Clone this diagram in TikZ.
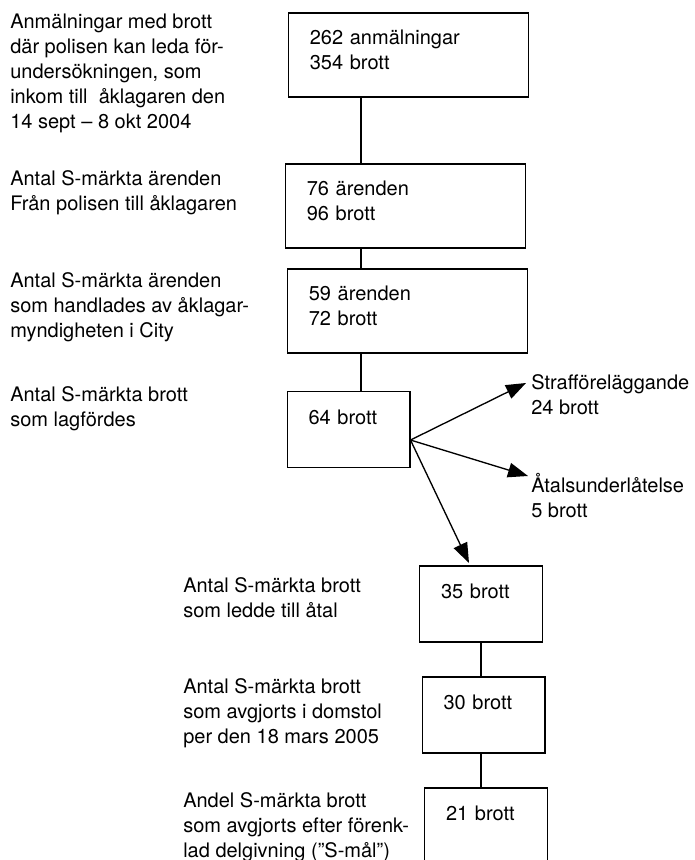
\documentclass[tikz,border=0pt]{standalone}
\usepackage{fontspec}
\setmainfont{TeX Gyre Heros}
\usetikzlibrary{arrows.meta}

\begin{document}
\begin{tikzpicture}[
		x=0.75pt, y=-0.75pt,
		every node/.style={font=\fontsize{15pt}{18.75pt}\selectfont},
		box/.style={draw, line width=1pt, align=left, inner xsep=16pt, inner ysep=0pt},
		wide/.style={box, text width=148pt, minimum height=63pt, text depth=26pt},
		narrow/.style={box, text width=60pt, minimum height=57pt},
		note/.style={align=left, anchor=base west, inner sep=0pt},
		link/.style={line width=1pt},
		arrow/.style={line width=1pt, -{Triangle[length=15pt,width=11pt]}}
	]
	\useasboundingbox (0,0) rectangle (695,860);
	\clip (0,0) rectangle (695,860);

	\node[wide] (b1) at (408.5,55) {262 anmälningar\\354 brott};
	\node[wide] (b2) at (405.5,206) {76 ärenden\\96 brott};
	\node[wide] (b3) at (407.5,311) {59 ärenden\\72 brott};
	\node[narrow] (b4) at (348.5,429.5) {64 brott\\\mbox{}};
	\node[narrow] (b5) at (481,604) {35 brott\\\mbox{}};
	\node[narrow] (b6) at (483.5,715) {30 brott\\\mbox{}};
	\node[narrow] (b7) at (486,826) {21 brott\\\mbox{}};

	\node[note] (n1) at (10,128) {Anmälningar med brott\\där polisen kan leda för-\\undersökningen, som\\inkom till~~åklagaren den\\14 sept – 8 okt 2004};
	\node[note] (n2) at (10,210) {Antal S-märkta ärenden\\Från polisen till åklagaren};
	\node[note] (n3) at (10,337) {Antal S-märkta ärenden\\som handlades av åklagar-\\myndigheten i City};
	\node[note] (n4) at (10,426) {Antal S-märkta brott\\som lagfördes};
	\node[note] (n5) at (183,617) {Antal S-märkta brott\\som ledde till åtal};
	\node[note] (n6) at (183,743) {Antal S-märkta brott\\som avgjorts i domstol\\per den 18 mars 2005};
	\node[note] (n7) at (183,857) {Andel S-märkta brott\\som avgjorts efter förenk-\\lad delgivning ("S-mål”)};
	\node[note] (straff) at (531,414) {Strafföreläggande\\24 brott};
	\node[note] (atal) at (531,517) {Åtalsunderlåtelse\\5 brott};

	\coordinate (spine) at (361,0);
	\draw[link] (b1.south -| spine) -- (b2.north -| spine);
	\draw[link] (b2.south -| spine) -- (b3.north -| spine);
	\draw[link] (b3.south -| spine) -- (b4.north -| spine);
	\draw[link] (b5.south) -- (b5.south |- b6.north);
	\draw[link] (b5.south |- b6.south) -- (b5.south |- b7.north);

	\coordinate (fork) at ([yshift=-7.9pt]b4.east);
	\coordinate (tipS) at (526,383);
	\coordinate (tipA) at (528,476);
	\coordinate (tipC) at (469,563);
	\draw[arrow] (fork) -- (tipS);
	\draw[arrow] (fork) -- (tipA);
	\draw[arrow] (fork) -- (tipC);
\end{tikzpicture}
\end{document}
